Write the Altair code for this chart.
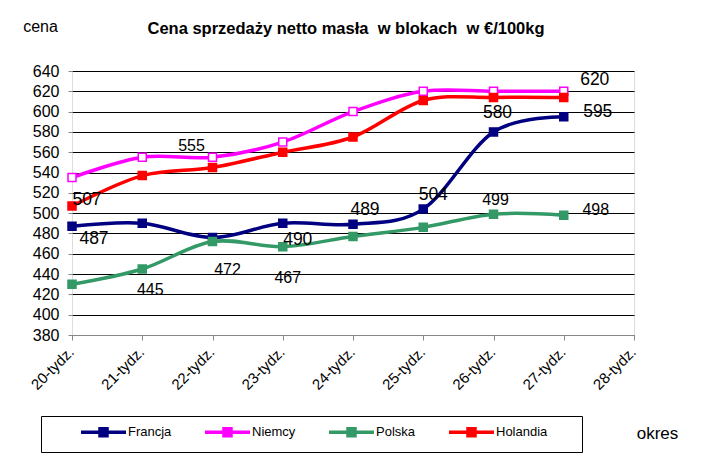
import altair as alt
import pandas as pd

# ---- data ----
weeks = ["20-tydz.", "21-tydz.", "22-tydz.", "23-tydz.", "24-tydz.",
         "25-tydz.", "26-tydz.", "27-tydz.", "28-tydz."]
series_names = ["Francja", "Niemcy", "Polska", "Holandia"]
francja = [487, 490, 476, 490, 489, 504, 580, 595]
niemcy = [535, 555, 555, 570, 600, 620, 620, 620]
polska = [430, 445, 472, 467, 477, 486, 499, 498]
holandia = [507, 537, 545, 560, 575, 611, 614, 614]
y_ticks = [380, 400, 420, 440, 460, 480, 500, 520, 540, 560, 580, 600, 620, 640]

# ---- styles ----
line_colors = ["#000080", "#FF00FF", "#339966", "#FF0000"]
marker_fills = ["#000080", "#FFFFFF", "#339966", "#FF0000"]
FONT = "Liberation Sans, Arial, sans-serif"

# data labels: (series, week index, dx, dy, font size)
label_specs = [
    ("Holandia", 0, 15, -6, 17.5),
    ("Francja", 0, 22, 13, 17.5),
    ("Polska", 1, 8, 21, 16),
    ("Niemcy", 2, -21, -11, 16),
    ("Polska", 2, 15, 28, 16),
    ("Francja", 3, 15, 17, 17.5),
    ("Polska", 3, 5, 31, 16),
    ("Francja", 4, 12, -14, 17.5),
    ("Francja", 5, 10, -14, 17.5),
    ("Polska", 6, 2, -14, 16),
    ("Francja", 6, 4, -19, 17.5),
    ("Niemcy", 7, 31, -11, 17.5),
    ("Francja", 7, 34, -5, 17.5),
    ("Polska", 7, 32, -5, 16),
]

values = {"Francja": francja, "Niemcy": niemcy, "Polska": polska, "Holandia": holandia}
rows = []
for s in series_names:
    for i, v in enumerate(values[s]):
        rows.append({"series": s, "week": weeks[i], "value": v})
df = pd.DataFrame(rows)

# legend symbol: line with a small square in its middle (units of 5 px)
legend_symbol = "M4.8,0H13.8M8.6,-0.7H10V0.7H8.6Z"
legend = alt.Legend(
    title="\u00a0", titleOrient="right", titlePadding=26, titleFontSize=10,
    orient="none", legendX=-31, legendY=345, direction="horizontal",
    strokeColor="black", padding=9, gridAlign="each", columnPadding=2,
    symbolType=legend_symbol, symbolSize=100,
    symbolStrokeWidth=3.5, labelFont=FONT, labelFontSize=13, labelColor="black",
    labelOffset=64, fillColor="white",
)

x_enc = alt.X("week:N", scale=alt.Scale(domain=weeks, padding=0), sort=weeks,
              axis=alt.Axis(title="okres", titleX=585, titleY=98, titleAlign="center",
                            titleBaseline="middle", titleFontSize=17, titleFontWeight="normal",
                            titleFont=FONT, labelAngle=-45, labelAlign="right",
                            labelBaseline="middle", labelPadding=9, labelOffset=-1,
                            labelFontSize=15, tickSize=5, grid=False))
y_enc = alt.Y("value:Q", scale=alt.Scale(domain=[380, 640], nice=False, zero=False),
              axis=alt.Axis(title="cena", values=y_ticks, titleAngle=0, titleX=-32, titleY=-45,
                            titleAlign="center", titleBaseline="middle", titleFontSize=16,
                            titleFontWeight="normal", titleFont=FONT, labelFontSize=16,
                            tickSize=4, labelPadding=9, grid=True, gridColor="black",
                            gridWidth=1, gridOpacity=1, domain=False))
color_enc = alt.Color("series:N", scale=alt.Scale(domain=series_names, range=line_colors),
                      legend=legend)
fill_enc = alt.Fill("series:N", scale=alt.Scale(domain=series_names, range=marker_fills),
                    legend=legend)

layers = []
for s in series_names:
    base = alt.Chart(df).transform_filter(alt.datum.series == s)
    layers.append(base.mark_line(interpolate="cardinal", strokeWidth=3.5).encode(
        x=x_enc, y=y_enc, color=color_enc))
    layers.append(base.mark_point(shape="square", size=64, filled=False, opacity=1,
                                  strokeWidth=1.5).encode(
        x=x_enc, y=y_enc, color=color_enc, fill=fill_enc))

for s, i, dx, dy, fs in label_specs:
    layers.append(
        alt.Chart(df).transform_filter(
            (alt.datum.series == s) & (alt.datum.week == weeks[i])
        ).mark_text(dx=dx, dy=dy, fontSize=fs, font=FONT, color="black",
                    align="center", baseline="middle").encode(
            x=x_enc, y=y_enc, text="value:Q")
    )

chart = alt.layer(*layers).properties(
    width=562, height=264,
    autosize="none",
    padding={"left": 64, "top": 63, "right": 60, "bottom": 120},
    title=alt.TitleParams("Cena sprzedaży netto masła\u00a0 w blokach\u00a0 w €/100kg",
                          font=FONT, fontSize=16.5, fontWeight="bold", anchor="middle",
                          dx=-7, offset=0, dy=19, color="black"),
).configure_view(
    fill="#FFFFCC", stroke="black", strokeWidth=1
).configure_axis(
    labelFont=FONT, labelColor="black", tickColor="black", domainColor="black",
    titleColor="black"
).configure(background="white")

chart.save("out.html", embed_options={"renderer": "svg", "actions": False})
